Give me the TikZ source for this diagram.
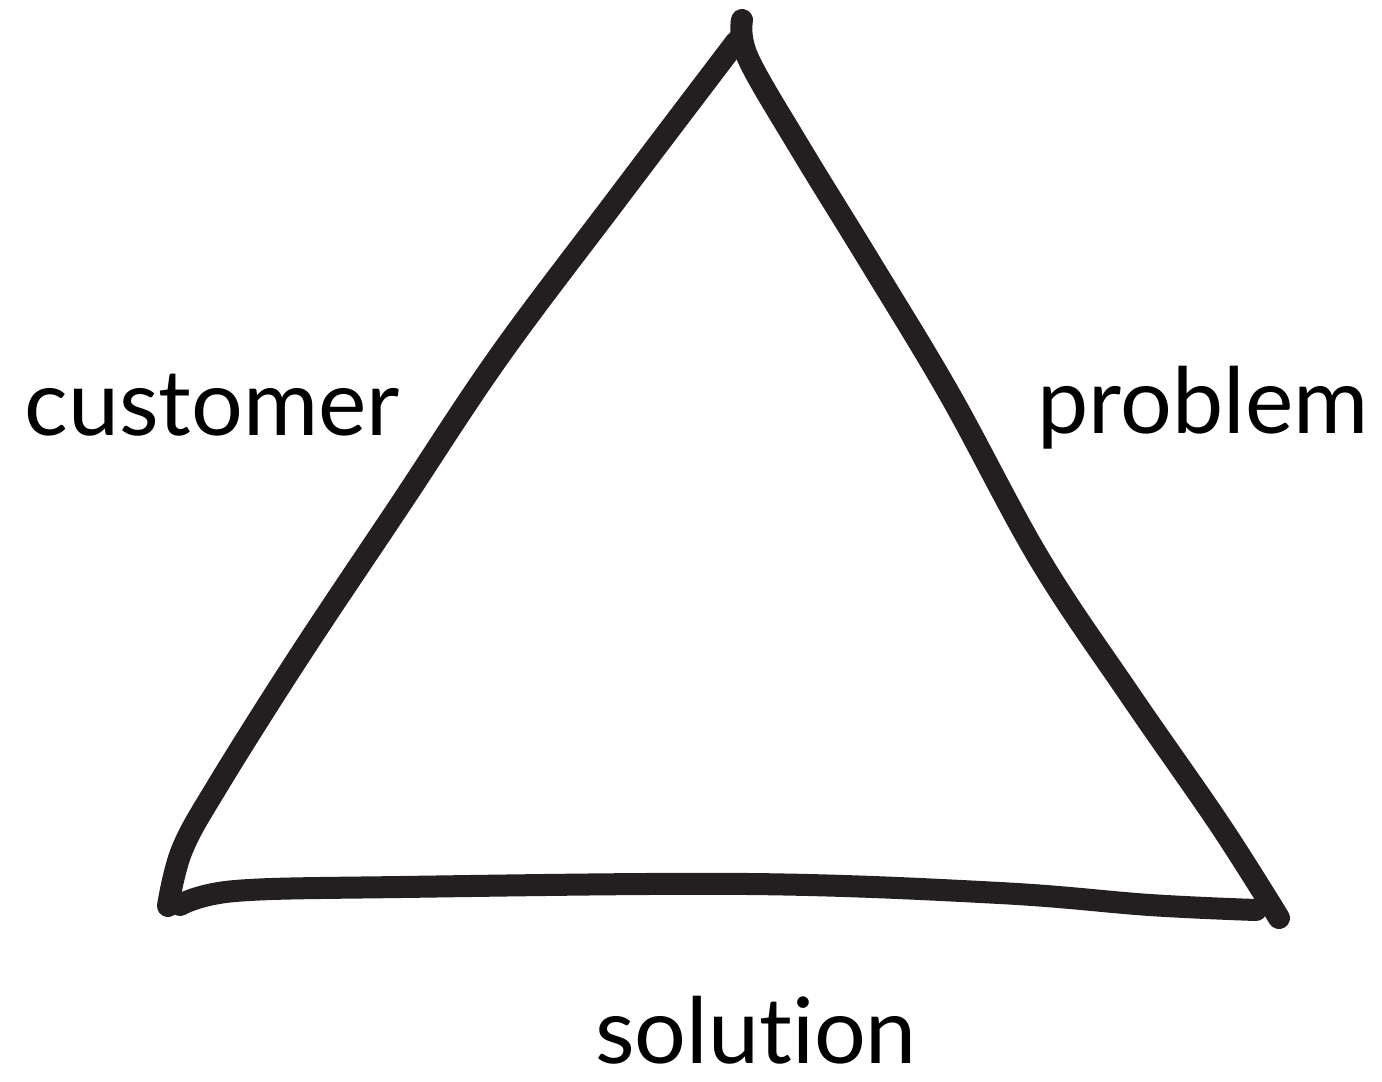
\documentclass[tikz,border=0pt]{standalone}
\usepackage{fontspec}
\setmainfont[Ligatures=NoCommon]{Lato}
\usepackage{tikz}
\definecolor{inkblack}{HTML}{231F20}
\tikzset{
  stroke/.style={line width=2.2mm, color=inkblack, line cap=round, line join=round},
  label/.style={font=\fontsize{26}{30}\selectfont, text=black, inner sep=0pt}
}

\begin{document}
\begin{tikzpicture}[x=0.01cm, y=-0.01cm]
			%%%%% START %%%%%
			\useasboundingbox (0, 0) rectangle (1382, 1081);
			
			\coordinate (apex) at (742, 20);
			\coordinate (left) at (168, 906);
			\coordinate (right) at (1279, 918);
			
			% left side
			\draw[stroke] plot[smooth, tension=0.6] coordinates {(736, 42) (620, 195) (500, 355) (400, 505) (300, 655) (218, 785) (182, 850) (left)};
			% right side
			\draw[stroke] plot[smooth, tension=0.6] coordinates {(apex) (748, 58) (800, 148) (870, 262) (950, 395) (1040, 560) (1130, 695) (1220, 825) (right)};
			% bottom
			\draw[stroke] plot[smooth, tension=0.6] coordinates {(180, 905) (235, 891) (400, 887) (750, 884) (1000, 893) (1150, 905) (1256, 910)};
			
			\node[label] (customer) at (212, 405) {customer};
			\node[label] (problem) at (1203, 408) {problem};
			\node[label] (solution) at (756, 1030) {solution};
			
			%%%%% END %%%%%
\end{tikzpicture}
\end{document}
